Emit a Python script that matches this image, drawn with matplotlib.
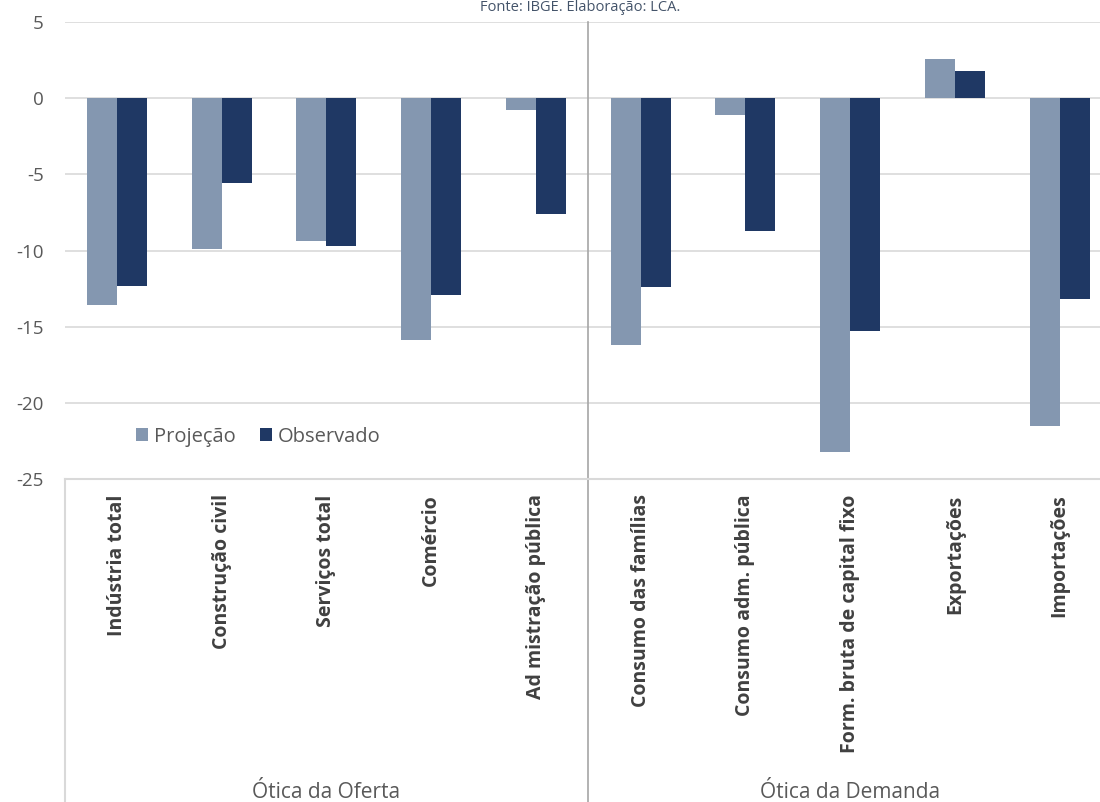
import numpy as np
import matplotlib
matplotlib.use("Agg")
import matplotlib.pyplot as plt

# DATA
categorias = ["Indústria total", "Construção civil", "Serviços total", "Comércio",
              "Ad mistração pública", "Consumo das famílias", "Consumo adm. pública",
              "Form. bruta de capital fixo", "Exportações", "Importações"]
projecao = [-13.6, -9.9, -9.4, -15.9, -0.8, -16.2, -1.1, -23.2, 2.6, -21.5]
observado = [-12.3, -5.6, -9.7, -12.9, -7.6, -12.4, -8.7, -15.3, 1.8, -13.2]
grupos = ["Ótica da Oferta", "Ótica da Demanda"]
yticks = [5, 0, -5, -10, -15, -20, -25]

COR_PROJ = "#8497B0"
COR_OBS = "#1F3864"
CINZA = "#595959"

plt.rcParams["font.family"] = ["Open Sans", "DejaVu Sans"]

fig = plt.figure(figsize=(11, 8.02), dpi=100)
W, H = 1100.0, 802.0
left, right, top, bottom = 64.6, 1100.0, 22.0, 479.0
ax = fig.add_axes([left / W, 1 - bottom / H, (right - left) / W, (bottom - top) / H])

x = np.arange(len(categorias))
bw = 0.286
ax.bar(x - bw / 2, projecao, bw, color=COR_PROJ, label="Projeção")
ax.bar(x + bw / 2, observado, bw, color=COR_OBS, label="Observado")

ax.set_ylim(-25, 5)
ax.set_xlim(-0.5, 9.5 - 12 / 104.8)
ax.set_yticks(yticks)
ax.set_yticklabels([str(v) for v in yticks], fontsize=13.5, color=CINZA)
ax.tick_params(axis="y", length=0, pad=15)
for v in yticks[:-1]:
    ax.axhline(v, color="#D9D9D9", lw=1.2, zorder=0)
for s in ["top", "right", "left"]:
    ax.spines[s].set_visible(False)
ax.spines["bottom"].set_color("#D9D9D9")
ax.spines["bottom"].set_linewidth(1.5)

ax.set_xticks(x)
ax.set_xticklabels(categorias, rotation=90, va="top", ha="center",
                   fontsize=14, fontweight="bold", color="#404040",
                   fontstretch="condensed")
ax.tick_params(axis="x", length=0, pad=11)

# divisoria entre os grupos e caixa dos rotulos
tr = ax.get_xaxis_transform()
ax.plot([4.5, 4.5], [-0.72, 1], transform=tr, color="#A6A6A6", lw=1.2, clip_on=False)
ax.plot([-0.5, -0.5], [-0.72, 0], transform=tr, color="#D9D9D9", lw=1.5, clip_on=False)

ax.text(2, -0.685, grupos[0], transform=tr, ha="center", va="center", fontsize=15, color=CINZA)
ax.text(7, -0.685, grupos[1], transform=tr, ha="center", va="center", fontsize=15, color=CINZA)

ax.legend(loc="upper left", bbox_to_anchor=(0.055, 0.145), ncol=2, frameon=False,
          handlelength=0.6, handleheight=0.6, handletextpad=0.3, columnspacing=1.2,
          fontsize=14.5, labelcolor=CINZA, borderpad=0.2)

fig.text(0.527, 1.0, "Fonte: IBGE. Elaboração: LCA.", ha="center", va="top",
         fontsize=10.5, color="#44546A")

fig.savefig("out.png", dpi=100)
